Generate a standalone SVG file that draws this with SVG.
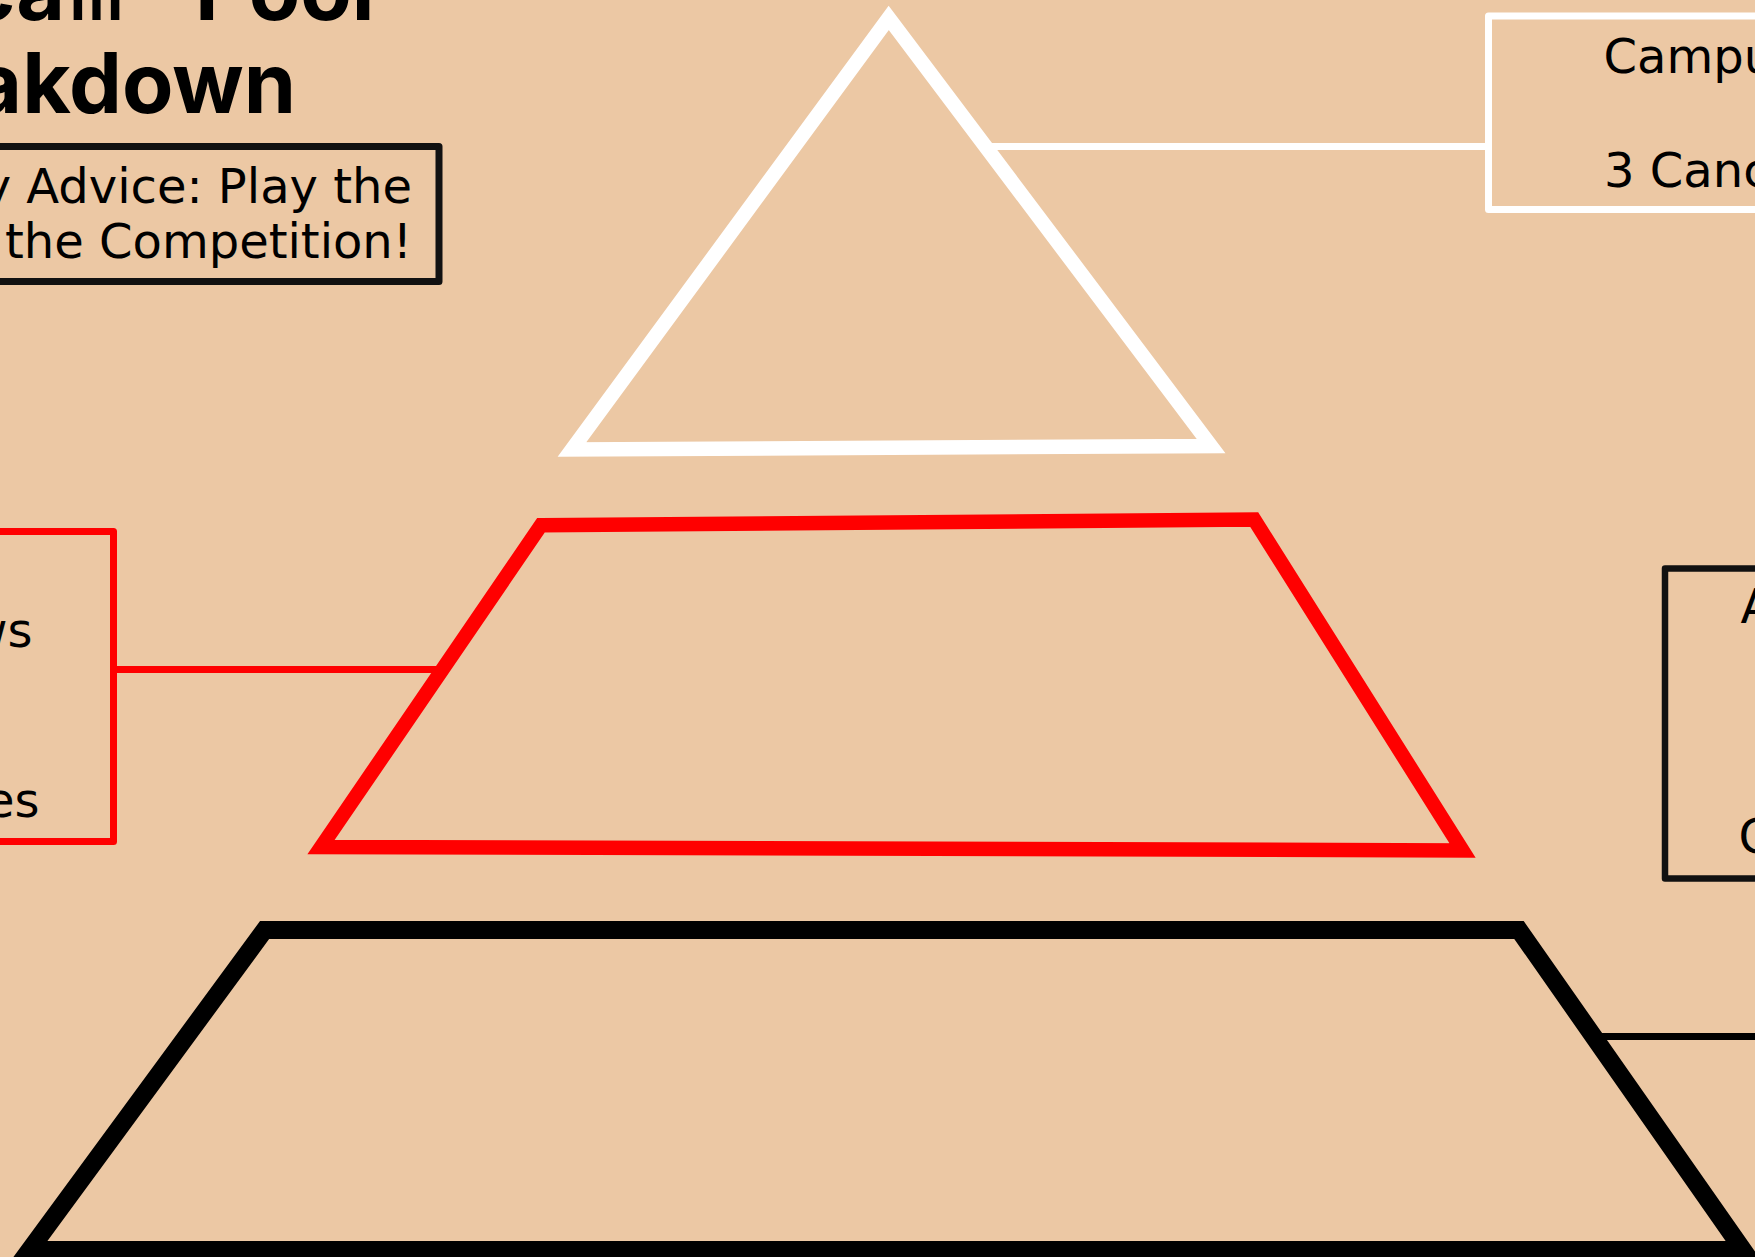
<svg xmlns="http://www.w3.org/2000/svg" width="1755" height="1257" viewBox="0 0 1755 1257">
  <style>
    .title { font-family: Inter, "Open Sans", "DejaVu Sans", sans-serif; font-weight: 700; font-size: 84px; fill: #000; }
    .label { font-family: "DejaVu Sans", Verdana, sans-serif; font-size: 48px; fill: #000; }
    .box { fill: none; stroke-linejoin: round; }
    .tier { fill: none; stroke-linejoin: miter; stroke-miterlimit: 10; }
  </style>
  <rect x="0" y="0" width="1755" height="1257" fill="#ECC8A4"/>

  <g id="title">
    <text class="title" y="20"><tspan x="65" text-anchor="end">eca</tspan><tspan x="70" textLength="53" lengthAdjust="spacingAndGlyphs">m</tspan><tspan x="195">Pool</tspan></text>
    <text class="title" x="296" y="113" text-anchor="end">akdown</text>
  </g>

  <g id="advice-box">
    <rect class="box" x="-200" y="146.5" width="639" height="135" stroke="#111" stroke-width="7"/>
    <text class="label" x="412" y="203" text-anchor="end">y Advice: Play the</text>
    <text class="label" x="412" y="258" text-anchor="end">the Competition!</text>
  </g>

  <g id="tier-top">
    <polygon class="tier" points="888.7,17.9 1211,446 572,449.5" stroke="#FFFFFF" stroke-width="14.5"/>
  </g>

  <g id="tier-middle">
    <polygon class="tier" points="541,525.2 1254.2,519.6 1462.5,850.4 321.1,847" stroke="#FF0000" stroke-width="14.5"/>
  </g>

  <g id="tier-bottom">
    <polygon class="tier" points="264.6,930 1519,930 1743,1250 29.7,1250" stroke="#000000" stroke-width="18"/>
  </g>

  <g id="box-top-right">
    <rect class="box" x="1488.5" y="16" width="400" height="193.5" stroke="#FFFFFF" stroke-width="7"/>
    <text class="label" x="1603.5" y="73">Campu</text>
    <text class="label" x="1604" y="187">3 Canc</text>
  </g>

  <g id="box-left-red">
    <rect class="box" x="-200" y="531.5" width="313.5" height="310" stroke="#FF0000" stroke-width="7"/>
    <text class="label" x="32.5" y="647" text-anchor="end">ws</text>
    <text class="label" x="39.5" y="817" text-anchor="end">es</text>
  </g>

  <g id="box-right-black">
    <rect class="box" x="1665" y="568.5" width="300" height="310" stroke="#111" stroke-width="6.5"/>
    <text class="label" x="1740.5" y="623">A</text>
    <text class="label" x="1738.6" y="853">C</text>
  </g>

  <g id="connectors">
    <line x1="985.5" y1="146.5" x2="1488.5" y2="146.5" stroke="#FFFFFF" stroke-width="7"/>
    <line x1="113.5" y1="669.5" x2="442" y2="669.5" stroke="#FF0000" stroke-width="7"/>
    <line x1="1594" y1="1036.5" x2="1760" y2="1036.5" stroke="#000000" stroke-width="7"/>
  </g>
</svg>
